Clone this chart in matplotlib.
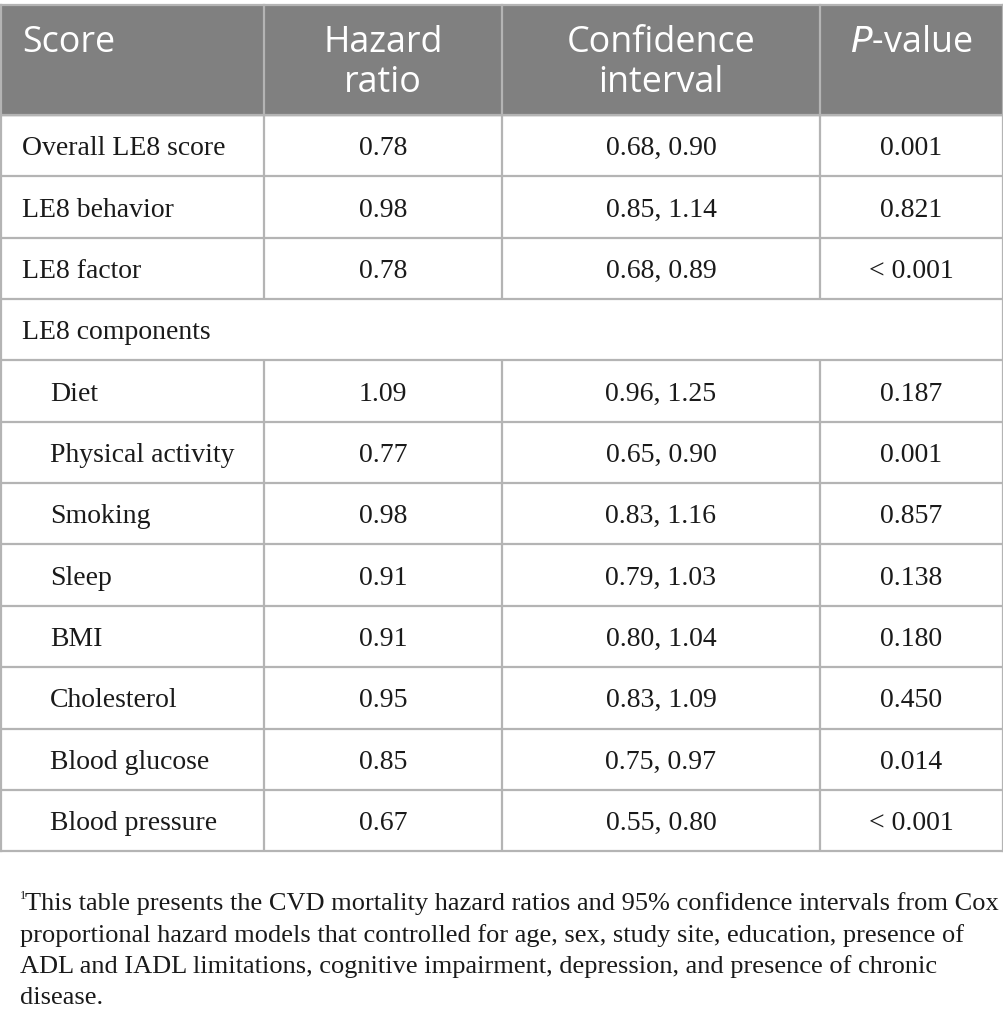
import matplotlib
matplotlib.use("Agg")
import matplotlib.pyplot as plt
from matplotlib.patches import Rectangle

# ---- data ----
headers = ["Score", "Hazard\nratio", "Confidence\ninterval", "P-value"]
row_labels = ["Overall LE8 score", "LE8 behavior", "LE8 factor", "LE8 components",
              "Diet", "Physical activity", "Smoking", "Sleep", "BMI",
              "Cholesterol", "Blood glucose", "Blood pressure"]
indented = [False, False, False, False, True, True, True, True, True, True, True, True]
hazard = ["0.78", "0.98", "0.78", "", "1.09", "0.77", "0.98", "0.91", "0.91", "0.95", "0.85", "0.67"]
ci = ["0.68, 0.90", "0.85, 1.14", "0.68, 0.89", "", "0.96, 1.25", "0.65, 0.90",
      "0.83, 1.16", "0.79, 1.03", "0.80, 1.04", "0.83, 1.09", "0.75, 0.97", "0.55, 0.80"]
pval = ["0.001", "0.821", "< 0.001", "", "0.187", "0.001", "0.857", "0.138",
        "0.180", "0.450", "0.014", "< 0.001"]
footnote_lines = [
    "This table presents the CVD mortality hazard ratios and 95% confidence intervals from Cox",
    "proportional hazard models that controlled for age, sex, study site, education, presence of",
    "ADL and IADL limitations, cognitive impairment, depression, and presence of chronic",
    "disease.",
]

W, H = 1004, 1016
fig = plt.figure(figsize=(W / 100, H / 100), dpi=100)
ax = fig.add_axes([0, 0, 1, 1])
ax.set_xlim(0, W)
ax.set_ylim(H, 0)
ax.axis("off")

col_x = [1, 264, 502, 820, 1003]
header_top, header_bot = 5, 115
row_h = 61.35
grid_c = "#b4b4b4"
lw = 1.6
head_font = "Open Sans"
body_font = "Liberation Serif"
hsize = 25.8
bsize = 20
fsize = 19
tc = "#1a1a1a"

# header
ax.add_patch(Rectangle((0, header_top), W, header_bot - header_top, color="#808080", zorder=0))
for j in range(4):
    lines = headers[j].split("\n")
    for k, line in enumerate(lines):
        y = 43 + k * 40
        if j == 0:
            ax.text(22, y, line, ha="left", va="center", color="white", fontsize=hsize, family=head_font)
        else:
            cx = (col_x[j] + col_x[j + 1]) / 2
            if line == "P-value":
                ax.text(cx, y, r"$\mathit{P}$" + "-value", ha="center", va="center", color="white",
                        fontsize=hsize, family=head_font)
            else:
                ax.text(cx, y, line, ha="center", va="center", color="white", fontsize=hsize, family=head_font)

# body
n = len(row_labels)
bottom = header_bot + n * row_h
for i in range(n):
    top = header_bot + i * row_h
    yc = top + row_h / 2 + 3
    x0 = 50 if indented[i] else 22
    ax.text(x0, yc, row_labels[i], ha="left", va="center", fontsize=bsize, family=body_font, color=tc)
    for j, vals in enumerate([hazard, ci, pval], start=1):
        if vals[i]:
            cx = (col_x[j] + col_x[j + 1]) / 2
            ax.text(cx, yc, vals[i], ha="center", va="center", fontsize=bsize, family=body_font, color=tc)
    ax.plot([0, W], [top + row_h, top + row_h], color=grid_c, lw=lw, solid_capstyle="butt")
    if row_labels[i] != "LE8 components":
        for x in col_x[1:4]:
            ax.plot([x, x], [top, top + row_h], color=grid_c, lw=lw, solid_capstyle="butt")

# header separators and borders
for x in col_x[1:4]:
    ax.plot([x, x], [header_top, header_bot], color=grid_c, lw=lw)
ax.plot([0, W], [header_top, header_top], color=grid_c, lw=lw)
ax.plot([0, W], [header_bot, header_bot], color=grid_c, lw=lw)
ax.plot([1, 1], [header_top, bottom], color=grid_c, lw=lw)
ax.plot([W - 1, W - 1], [header_top, bottom], color=grid_c, lw=lw)

# footnote
fy0 = 904
fs = 31.3
ax.text(20, fy0 - 8, "1", ha="left", va="center", fontsize=9, family=body_font, color=tc)
for k, line in enumerate(footnote_lines):
    xs = 25 if k == 0 else 20
    ax.text(xs, fy0 + k * fs, line, ha="left", va="center", fontsize=fsize, family=body_font, color=tc)

fig.savefig("out.png", dpi=100)
